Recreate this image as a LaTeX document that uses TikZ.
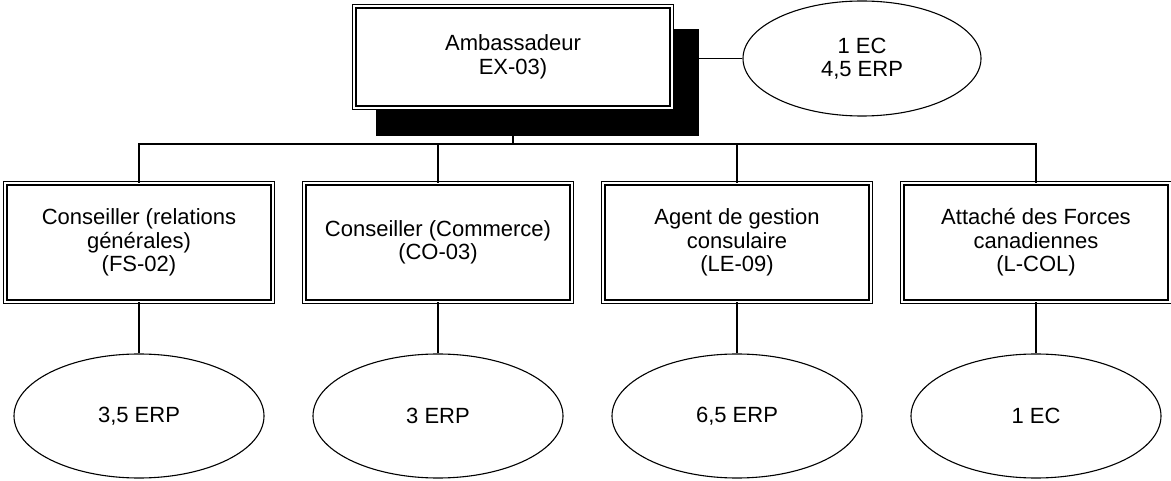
\documentclass[tikz,border=0pt]{standalone}
\usepackage{fontspec}
\setmainfont{Liberation Sans}
\usepackage{tikz}
\usetikzlibrary{shapes.geometric}
\usetikzlibrary{calc}

\begin{document}
\begin{tikzpicture}[x=1pt, y=-1pt,
		every text node part/.style={align=center},
		every node/.style={font=\fontsize{22}{23.5}\selectfont},
		link/.style={line width=1.1pt, black},
		postblock/.style={rectangle, inner sep=0pt, minimum width=267.6pt, minimum height=118.6pt, draw=black, line width=1.3pt, double=white, double distance=2.2pt, fill=white},
		headblock/.style={postblock, minimum width=317.6pt, minimum height=101.6pt},
		shadowblock/.style={rectangle, inner sep=0pt, minimum width=323pt, minimum height=107pt, fill=black},
		fte/.style={ellipse, inner sep=0pt, minimum width=250pt, minimum height=124pt, draw=black, line width=1.1pt, fill=white}]
		
		\useasboundingbox (0, 0) rectangle (1171, 481);
		
		% ambassade
		\node[shadowblock] (ambshadow) at (537.5, 82.5) {};
		\node[headblock] (amb) at (513, 57) {Ambassadeur\\EX-03)};
		\node[fte, minimum width=238pt, minimum height=115pt] (ambfte) at (862, 58.5) {1 EC\\4,5 ERP};
		\draw[link] (ambfte.west) -- (ambfte.west -| ambshadow.east);
		
		% postes
		\node[postblock] (cons) at (139, 242.5) {Conseiller (relations\\générales)\\(FS-02)};
		\node[postblock] (comm) at (438, 242.5) {Conseiller (Commerce)\\(CO-03)};
		\node[postblock] (agent) at (737, 242.5) {Agent de gestion\\consulaire\\(LE-09)};
		\node[postblock] (attache) at (1036, 242.5) {Attaché des Forces\\canadiennes\\(L-COL)};
		
		\coordinate (bus) at (513, 144);
		\draw[link] (amb.south |- ambshadow.south) -- (bus);
		\draw[link] (cons.north) |- (bus) -| (attache.north);
		\draw[link] (comm.north) -- (comm.north |- bus);
		\draw[link] (agent.north) -- (agent.north |- bus);
		
		% effectifs
		\node[fte] (consfte) at (139, 416) {3,5 ERP};
		\node[fte] (commfte) at (438, 416) {3 ERP};
		\node[fte] (agentfte) at (737, 416) {6,5 ERP};
		\node[fte] (attachefte) at (1036, 416) {1 EC};
		
		\draw[link] (cons.south) -- (consfte.north);
		\draw[link] (comm.south) -- (commfte.north);
		\draw[link] (agent.south) -- (agentfte.north);
		\draw[link] (attache.south) -- (attachefte.north);
		
	\end{tikzpicture}
\end{document}
